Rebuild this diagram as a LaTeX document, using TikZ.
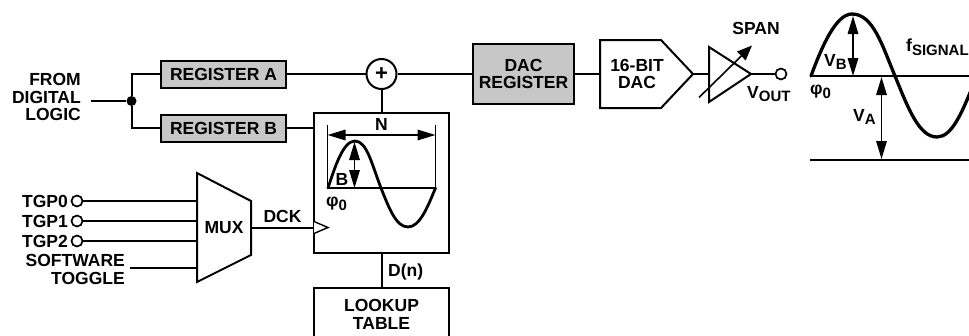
\documentclass[tikz,border=0pt]{standalone}
\usepackage{fontspec}
\setmainfont{Liberation Sans}
\usetikzlibrary{arrows.meta}
\newcommand{\subt}[1]{\raisebox{-3.5pt}{\fontsize{15}{15}\selectfont #1}}
\tikzset{
  lbl/.style={font=\fontsize{17.5}{17.8}\selectfont\bfseries,inner sep=0pt,align=center},
  rlbl/.style={lbl,align=right},
  reg/.style={draw=black,line width=2pt,fill=black!22,minimum width=125pt,minimum height=27pt,inner sep=0pt,lbl},
  wbox/.style={draw=black,line width=2pt,inner sep=0pt,lbl},
  wire/.style={line width=2pt},
  thinw/.style={line width=1.4pt},
  wave/.style={line width=3pt,line cap=round},
  dbl/.style={line width=1.6pt,{Triangle[length=18pt,width=10.5pt]}-{Triangle[length=18pt,width=10.5pt]}},
  port/.style={circle,draw=black,line width=1.7pt,fill=white,minimum size=11pt,inner sep=0pt}
}
\begin{document}
\begin{tikzpicture}[x=1pt,y=-1pt]
\useasboundingbox (0,0) rectangle (969,335);
% left input
\node[rlbl,anchor=east] (from) at (81,97) {FROM\\DIGITAL\\LOGIC};
\coordinate (fromend) at (91,101);
\node[circle,fill=black,minimum size=10pt,inner sep=0pt] (junc) at (131.5,101) {};
\node[reg] (rega) at (223.5,74) {REGISTER A};
\node[reg] (regb) at (223.5,128) {REGISTER B};
\draw[wire] (fromend) -- (junc);
\draw[wire] (junc) |- (rega.west);
\draw[wire] (junc) |- (regb.west);
% sum
\node[circle,draw=black,line width=2pt,minimum size=30pt,inner sep=0pt,lbl,font=\fontsize{22}{22}\selectfont\bfseries] (sum) at (381.5,74) {+};
\node[wbox,fill=black!22,minimum width=101pt,minimum height=60pt] (dacreg) at (523.5,74) {DAC\\REGISTER};
\draw[wire] (rega.east) -- (sum);
\draw[wire] (sum) -- (dacreg.west);
% big box
\node[wbox,minimum width=135pt,minimum height=140pt] (wavebox) at (381.5,183) {};
\draw[wire] (sum) -- (wavebox.north -| sum);
\draw[wire] (regb.east) -- (regb.east -| wavebox.west);
\node[lbl,anchor=center] (nlbl) at (381.5,124) {N};
\coordinate (ltop) at (327.5,125);
\coordinate (lbot) at (327.5,188);
\coordinate (rtop) at (435.5,125);
\coordinate (rbot) at (435.5,188);
\draw[thinw] (ltop) -- (lbot) -- (rbot) -- (rtop);
\draw[dbl] (327.5,135) -- (435.5,135);
\draw[wave,line width=2.8pt] (328,188) .. controls (335,167) and (343,141) .. (355,141)
  .. controls (367,141) and (372,165) .. (381,188)
  .. controls (389,208) and (396,227) .. (408,227)
  .. controls (420,227) and (428,206) .. (435.5,188);
\draw[dbl] (354.5,142) -- (354.5,188);
\node[lbl] (blbl) at (342,179) {B};
\node[lbl,anchor=west] (phii) at (326,204) {φ\subt{0}};
% lookup
\node[wbox,minimum width=135pt,minimum height=52pt] (lut) at (381.5,314) {LOOKUP\\TABLE};
\draw[wire] (wavebox.south -| lut) -- (lut.north);
\node[lbl,anchor=west] (dn) at (388,272) {D(n)};
% MUX
\coordinate (m1) at (197,173);
\coordinate (m2) at (251,201);
\coordinate (m3) at (251,255);
\coordinate (m4) at (197,282);
\draw[wire,line join=miter] (m1) -- (m2) -- (m3) -- (m4) -- cycle;
\node[lbl] (mux) at (224,228) {MUX};
\node[port] (t0) at (77,201) {};
\node[port] (t1) at (77,221) {};
\node[port] (t2) at (77,241) {};
\node[lbl,anchor=east] (t0l) at (68,201) {TGP0};
\node[lbl,anchor=east] (t1l) at (68,221) {TGP1};
\node[lbl,anchor=east] (t2l) at (68,241) {TGP2};
\node[rlbl,anchor=east] (sw) at (125,269.5) {SOFTWARE\\TOGGLE};
\coordinate (swend) at (130,268);
\draw[wire] (t0) -- (197,201);
\draw[wire] (t1) -- (197,221);
\draw[wire] (t2) -- (197,241);
\draw[wire] (swend) -- (197,268);
\coordinate (clk) at (314,227.5);
\draw[wire] (251,227.5) -- (clk);
\draw[thinw,fill=white] (314,221.5) -- (328,227.5) -- (314,233.5);
\node[lbl] (dck) at (282.5,216) {DCK};
% DAC
\node[lbl] (dac) at (637,74) {16-BIT\\DAC};
\draw[wire,line join=miter] (600,40) -- (661,40) -- (693,74) -- (661,108) -- (600,108) -- cycle;
\draw[wire] (574,74) -- (600,74);
\coordinate (aw) at (709,74);
\draw[wire] (693,74) -- (aw);
\draw[wire,line join=miter] (709,47) -- (751,74) -- (709,102) -- cycle;
\draw[line width=1.6pt,-{Triangle[length=15pt,width=12pt]}] (699,97.5) -- (752,45.5);
\node[port] (vo) at (781,74) {};
\draw[wire] (751,74) -- (vo);
\node[lbl] (span) at (756,28) {SPAN};
\node[lbl,anchor=west] (vout) at (747,94) {V\subt{OUT}};
% output wave
\draw[line width=1.4pt] (810,76) -- (969,76);
\draw[line width=1.4pt] (810,160) -- (969,160);
\begin{scope}
\clip (800,0) rectangle (969,200);
\draw[wave,line width=3.3pt] (811,76) .. controls (822,46) and (836,14) .. (852,14)
  .. controls (873,14) and (882,45) .. (895,76)
  .. controls (908,108) and (919,137) .. (937,137)
  .. controls (952,137) and (962,112) .. (972,88);
\end{scope}
\draw[dbl] (853,16) -- (853,76);
\draw[dbl] (881.5,77) -- (881.5,159);
\node[lbl,anchor=west] (vb) at (824,62) {V\subt{B}};
\node[lbl,anchor=west] (va) at (853,117) {V\subt{A}};
\node[lbl,anchor=west] (phio) at (810,92) {φ\subt{0}};
\node[lbl,anchor=west] (fs) at (906,47) {f\subt{SIGNAL}};
\end{tikzpicture}
\end{document}
